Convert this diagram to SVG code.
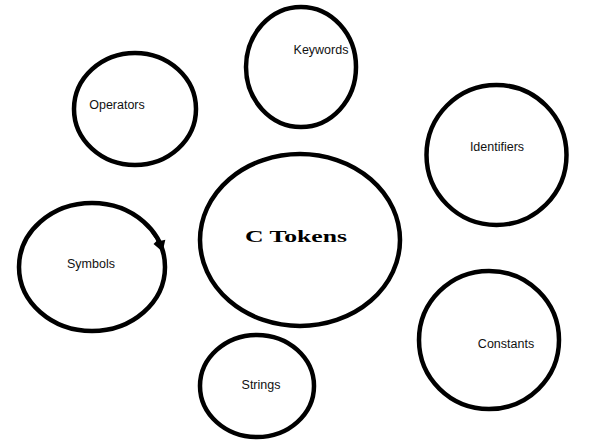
<svg xmlns="http://www.w3.org/2000/svg" width="606" height="446" viewBox="0 0 606 446">
<style>
.n{fill:#fff;stroke:#000;stroke-width:4.5}
.t{font-family:"Liberation Sans",Arial,sans-serif;font-size:12.5px;fill:#111;text-anchor:middle}
.b{font-family:"Liberation Serif","Times New Roman",serif;font-size:16px;font-weight:bold;fill:#000}
</style>
<rect width="606" height="446" fill="#fff"/>
<g id="ctokens"><ellipse class="n" cx="300" cy="240" rx="100" ry="86"/><text class="b" x="245" y="242" textLength="102" lengthAdjust="spacingAndGlyphs">C Tokens</text></g>
<g id="keywords"><ellipse class="n" cx="301" cy="67" rx="55" ry="60"/><text class="t" x="321" y="54">Keywords</text></g>
<g id="operators"><ellipse class="n" cx="135" cy="109" rx="61" ry="56"/><text class="t" x="117" y="109">Operators</text></g>
<g id="identifiers"><ellipse class="n" cx="496.5" cy="155" rx="70" ry="70"/><text class="t" x="497" y="151">Identifiers</text></g>
<g id="symbols"><ellipse class="n" cx="92" cy="267" rx="73" ry="64"/><text class="t" x="91" y="268">Symbols</text>
<path d="M152,232 L158,241 L155,244 L162,250 L164,241 L160,242 Z" fill="#000" stroke="#000" stroke-width="2"/></g>
<g id="constants"><ellipse class="n" cx="489" cy="340" rx="70" ry="69"/><text class="t" x="506" y="348">Constants</text></g>
<g id="strings"><ellipse class="n" cx="257" cy="386" rx="57" ry="51"/><text class="t" x="261" y="389">Strings</text></g>
<g id="connectors"></g>
</svg>
